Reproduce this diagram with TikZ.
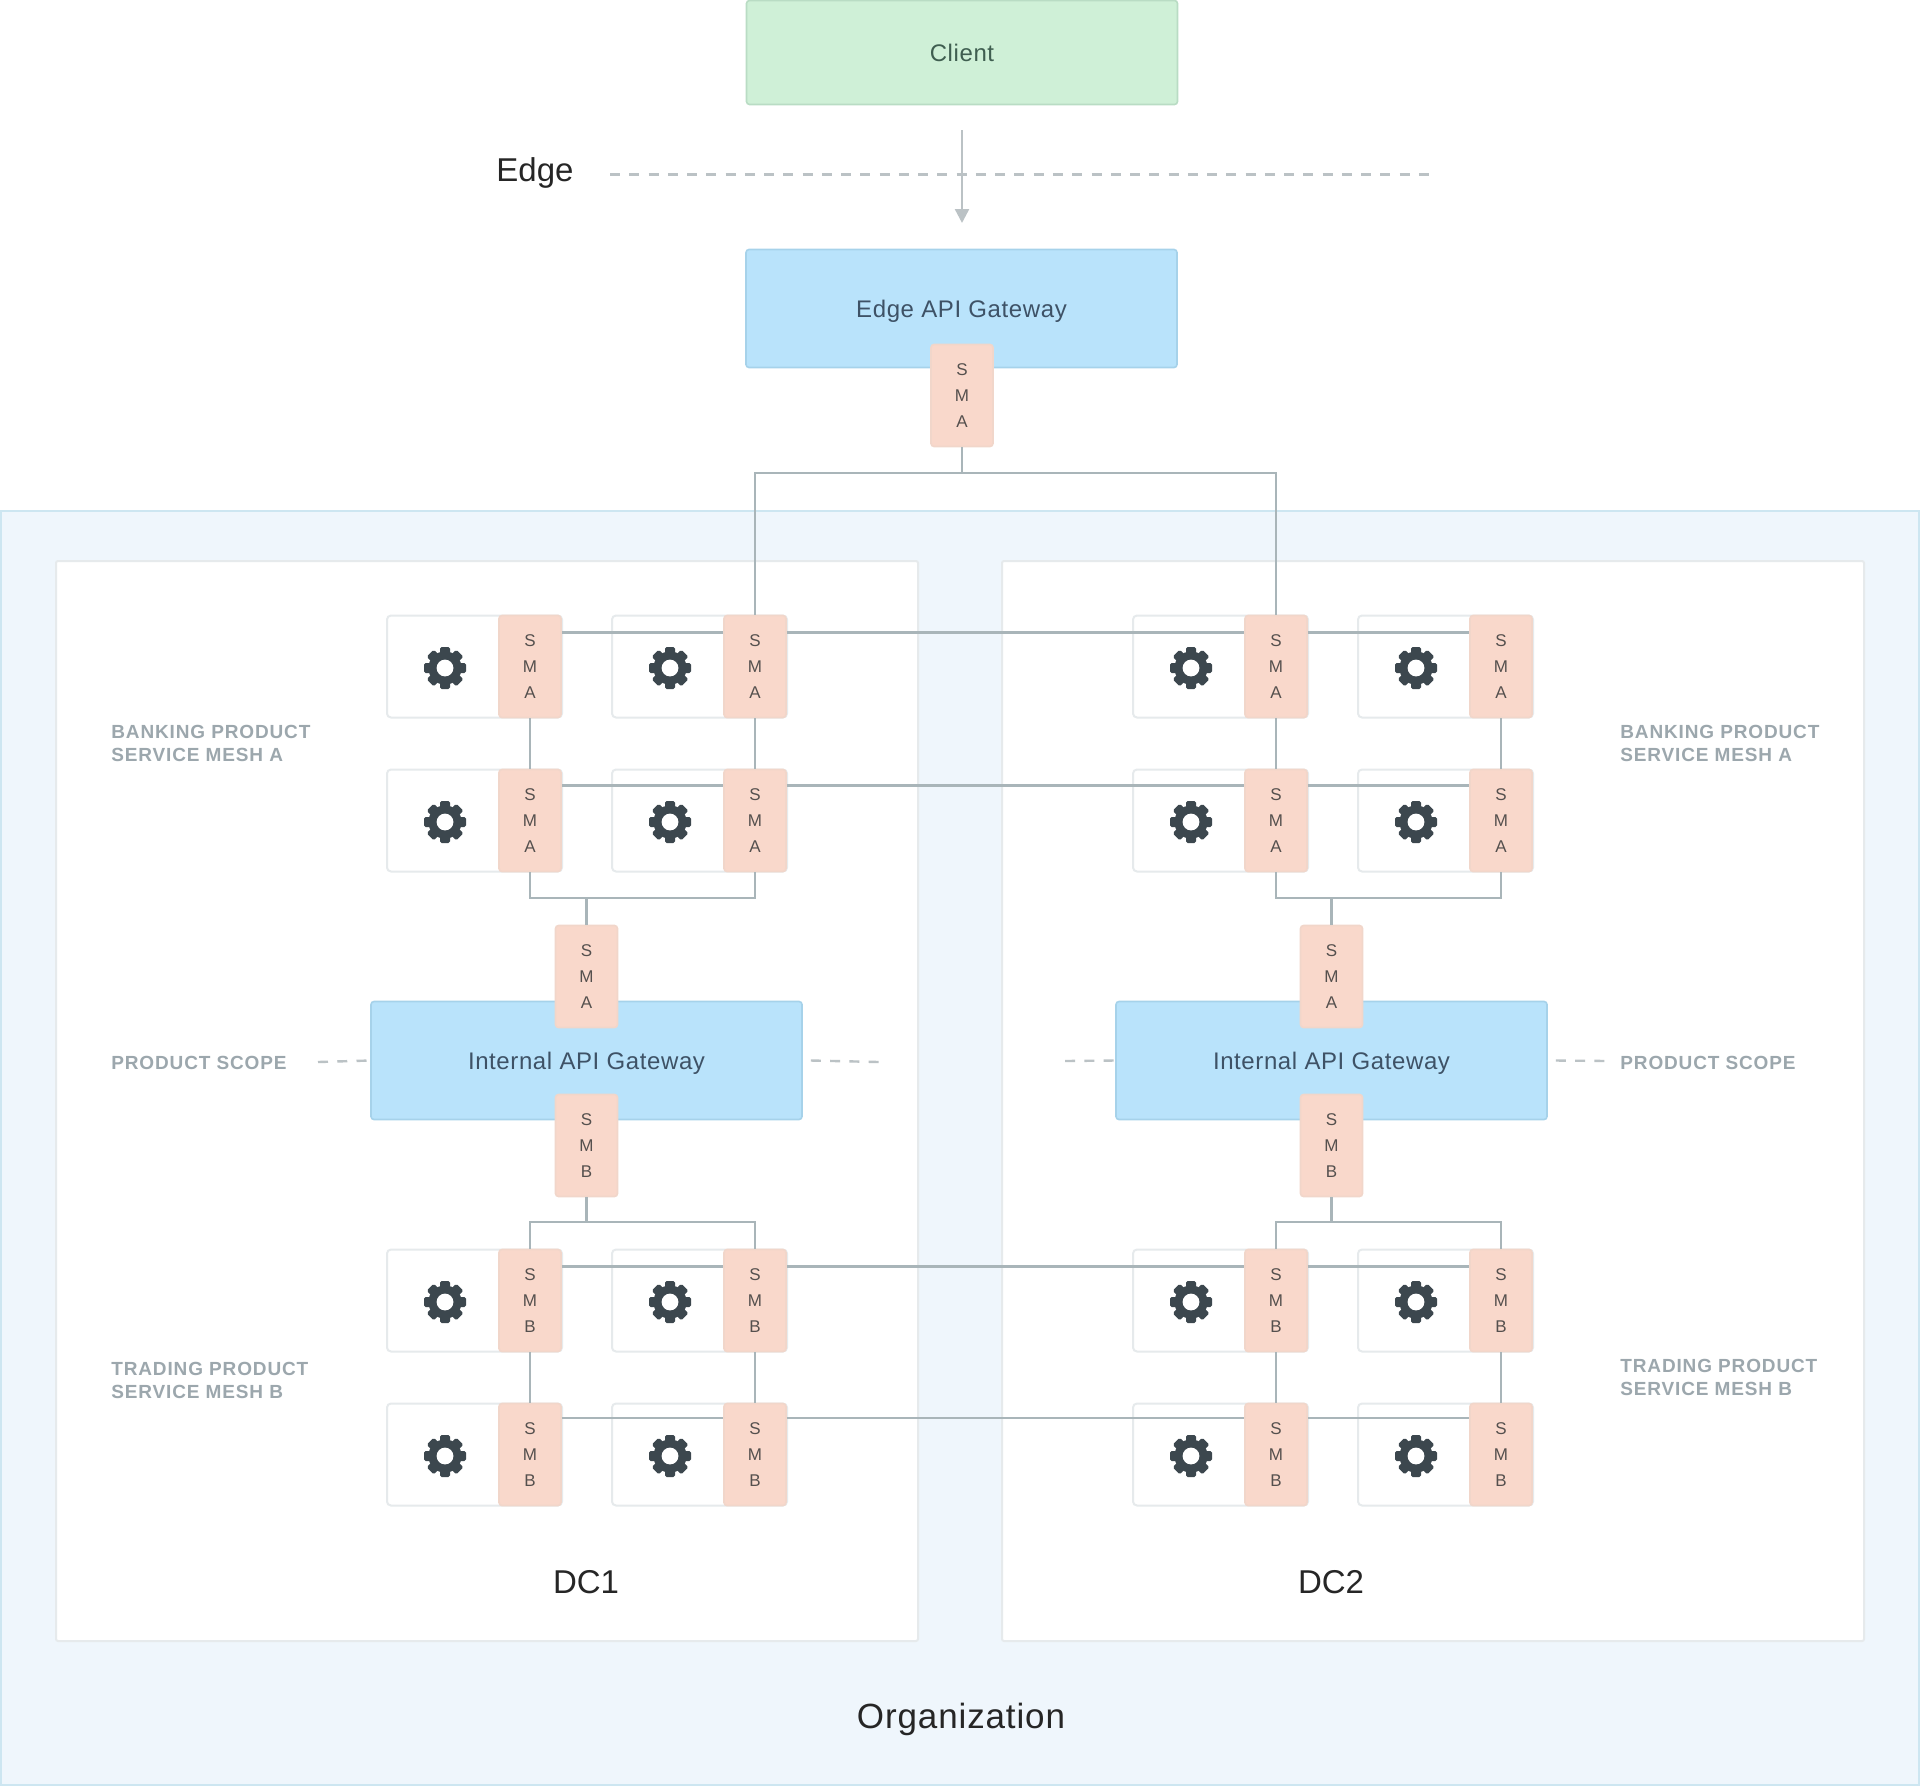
\documentclass[tikz,border=0pt]{standalone}
\usepackage{fontspec}
\setmainfont{Liberation Sans}
\newfontfamily\boxfont[LetterSpace=2.5]{Liberation Sans}
\newfontfamily\lblfont[LetterSpace=4.5]{Liberation Sans}
\usetikzlibrary{arrows.meta}
\definecolor{orgfill}{HTML}{EFF6FC}
\definecolor{orgline}{HTML}{CDE6F1}
\definecolor{dcline}{HTML}{E6EAEC}
\definecolor{wirecol}{HTML}{A9B5B9}
\definecolor{dashcol}{HTML}{BBC2C5}
\definecolor{gearcol}{HTML}{3C474E}
\definecolor{lblcol}{HTML}{9CA7AD}
\definecolor{clientfill}{HTML}{CFF0D7}
\definecolor{clientline}{HTML}{B9DCC4}
\definecolor{clienttxt}{HTML}{3F5E50}
\definecolor{gwfill}{HTML}{B9E3FB}
\definecolor{gwline}{HTML}{A6D2EA}
\definecolor{gwtxt}{HTML}{3E5266}
\definecolor{smfill}{HTML}{F9D8CB}
\definecolor{smline}{HTML}{F1D6CA}
\definecolor{smtxt}{HTML}{55504E}
\tikzset{
  orgbox/.style={draw=orgline, line width=1.2pt, fill=orgfill},
  dcbox/.style={draw=dcline, line width=1pt, fill=white, rounded corners=1pt},
  clientbox/.style={draw=clientline, line width=.8pt, fill=clientfill, rounded corners=1.5pt, inner sep=0, minimum width=215.5pt, minimum height=52pt, text=clienttxt, font=\boxfont\fontsize{12}{13}\selectfont},
  gwbox/.style={draw=gwline, line width=.8pt, fill=gwfill, rounded corners=1.5pt, inner sep=0, minimum width=215.5pt, minimum height=59pt, text=gwtxt, text depth=0pt, font=\boxfont\fontsize{12}{13}\selectfont},
  svcbox/.style={draw=dcline, line width=1pt, fill=white, rounded corners=2pt, inner sep=0, minimum width=87.5pt, minimum height=51pt},
  smbox/.style={draw=smline, line width=.8pt, fill=smfill, rounded corners=1.5pt, inner sep=0, minimum width=31pt, minimum height=51pt, align=center, text=smtxt, font=\fontsize{8.5}{13}\selectfont},
  wire/.style={draw=wirecol, line width=1.2pt},
  scopedash/.style={draw=dashcol, line width=1.2pt, dash pattern=on 5pt off 4.63pt},
  lbl/.style={anchor=west, align=left, inner sep=0, text=lblcol, font=\lblfont\fontsize{9.5}{11.5}\selectfont\bfseries},
  bigtxt/.style={inner sep=0, text=black!85, font=\fontsize{16.5}{20}\selectfont},
  gear/.pic={
    \fill[gearcol, rounded corners=.8pt] (-5,-21) rectangle (5,21);
    \fill[gearcol, rounded corners=.8pt, rotate=45] (-5,-21) rectangle (5,21);
    \fill[gearcol, rounded corners=.8pt, rotate=90] (-5,-21) rectangle (5,21);
    \fill[gearcol, rounded corners=.8pt, rotate=135] (-5,-21) rectangle (5,21);
    \fill[gearcol] (0,0) circle (8.3pt);
    \fill[white] (0,0) circle (4.2pt);
  }
}
\begin{document}
\begin{tikzpicture}[x=0.5pt,y=-0.5pt]
\useasboundingbox (0,0) rectangle (1920,1788);

\draw[orgbox] (1,511) rectangle (1919,1785);
\draw[dcbox] (56,561) rectangle (918,1641);
\draw[dcbox] (1002,561) rectangle (1864,1641);

\node[clientbox] (client) at (962,52.5) {Client};
\node[gwbox] (gwEdge) at (961.5,308.5) {Edge API Gateway};
\node[smbox] (smTop) at (962,395.5) {S\\M\\A};

\node[gwbox] (gwL) at (586.5,1060.5) {Internal API Gateway};
\node[gwbox] (gwR) at (1331.5,1060.5) {Internal API Gateway};
\node[smbox] (gwAl) at (586.5,976.5) {S\\M\\A};
\node[smbox] (gwBl) at (586.5,1145.5) {S\\M\\B};
\node[smbox] (gwAr) at (1331.5,976.5) {S\\M\\A};
\node[smbox] (gwBr) at (1331.5,1145.5) {S\\M\\B};

% banking mesh, first row
\node[svcbox] (svcA11) at (474.5,666.5) {}; \pic at (445,668) {gear};
\node[svcbox] (svcA12) at (699.5,666.5) {}; \pic at (670,668) {gear};
\node[svcbox] (svcA13) at (1220.5,666.5) {}; \pic at (1191,668) {gear};
\node[svcbox] (svcA14) at (1445.5,666.5) {}; \pic at (1416,668) {gear};
\node[smbox] (smA11) at (530,666.5) {S\\M\\A};
\node[smbox] (smA12) at (755,666.5) {S\\M\\A};
\node[smbox] (smA13) at (1276,666.5) {S\\M\\A};
\node[smbox] (smA14) at (1501,666.5) {S\\M\\A};

% banking mesh, second row
\node[svcbox] (svcA21) at (474.5,820.5) {}; \pic at (445,822) {gear};
\node[svcbox] (svcA22) at (699.5,820.5) {}; \pic at (670,822) {gear};
\node[svcbox] (svcA23) at (1220.5,820.5) {}; \pic at (1191,822) {gear};
\node[svcbox] (svcA24) at (1445.5,820.5) {}; \pic at (1416,822) {gear};
\node[smbox] (smA21) at (530,820.5) {S\\M\\A};
\node[smbox] (smA22) at (755,820.5) {S\\M\\A};
\node[smbox] (smA23) at (1276,820.5) {S\\M\\A};
\node[smbox] (smA24) at (1501,820.5) {S\\M\\A};

% trading mesh, first row
\node[svcbox] (svcB11) at (474.5,1300.5) {}; \pic at (445,1302) {gear};
\node[svcbox] (svcB12) at (699.5,1300.5) {}; \pic at (670,1302) {gear};
\node[svcbox] (svcB13) at (1220.5,1300.5) {}; \pic at (1191,1302) {gear};
\node[svcbox] (svcB14) at (1445.5,1300.5) {}; \pic at (1416,1302) {gear};
\node[smbox] (smB11) at (530,1300.5) {S\\M\\B};
\node[smbox] (smB12) at (755,1300.5) {S\\M\\B};
\node[smbox] (smB13) at (1276,1300.5) {S\\M\\B};
\node[smbox] (smB14) at (1501,1300.5) {S\\M\\B};

% trading mesh, second row
\node[svcbox] (svcB21) at (474.5,1454.5) {}; \pic at (445,1456) {gear};
\node[svcbox] (svcB22) at (699.5,1454.5) {}; \pic at (670,1456) {gear};
\node[svcbox] (svcB23) at (1220.5,1454.5) {}; \pic at (1191,1456) {gear};
\node[svcbox] (svcB24) at (1445.5,1454.5) {}; \pic at (1416,1456) {gear};
\node[smbox] (smB21) at (530,1454.5) {S\\M\\B};
\node[smbox] (smB22) at (755,1454.5) {S\\M\\B};
\node[smbox] (smB23) at (1276,1454.5) {S\\M\\B};
\node[smbox] (smB24) at (1501,1454.5) {S\\M\\B};

\coordinate (arrowTop) at (962,130);
\coordinate (arrowEnd) at (962,223);
\coordinate (edgeFrom) at (610,174.5);
\coordinate (edgeTo) at (1429,174.5);
\coordinate (busTop) at (962,473);
\coordinate (busAl) at (586.5,898);
\coordinate (busAr) at (1331.5,898);
\coordinate (busBl) at (586.5,1222);
\coordinate (busBr) at (1331.5,1222);

\draw[scopedash] (edgeFrom) -- (edgeTo);
\draw[dashcol, line width=1.2pt, -{Stealth[length=7pt, width=7pt, inset=0pt]}] (arrowTop) -- (arrowEnd);

\draw[wire] (smTop.south) -- (busTop);
\draw[wire] (smA12.north) |- (busTop) -| (smA13.north);

\draw[wire] ([yshift=17pt]smA11.east) -- ([yshift=17pt]smA12.west);
\draw[wire] ([yshift=17pt]smA12.east) -- ([yshift=17pt]smA13.west);
\draw[wire] ([yshift=17pt]smA13.east) -- ([yshift=17pt]smA14.west);
\draw[wire] ([yshift=17.5pt]smA21.east) -- ([yshift=17.5pt]smA22.west);
\draw[wire] ([yshift=17.5pt]smA22.east) -- ([yshift=17.5pt]smA23.west);
\draw[wire] ([yshift=17.5pt]smA23.east) -- ([yshift=17.5pt]smA24.west);
\draw[wire] ([yshift=17pt]smB11.east) -- ([yshift=17pt]smB12.west);
\draw[wire] ([yshift=17pt]smB12.east) -- ([yshift=17pt]smB13.west);
\draw[wire] ([yshift=17pt]smB13.east) -- ([yshift=17pt]smB14.west);
\draw[wire] ([yshift=18.2pt]smB21.east) -- ([yshift=18.2pt]smB22.west);
\draw[wire] ([yshift=18.2pt]smB22.east) -- ([yshift=18.2pt]smB23.west);
\draw[wire] ([yshift=18.2pt]smB23.east) -- ([yshift=18.2pt]smB24.west);

\draw[wire] (smA11.south) -- (smA21.north);
\draw[wire] (smA12.south) -- (smA22.north);
\draw[wire] (smA13.south) -- (smA23.north);
\draw[wire] (smA14.south) -- (smA24.north);
\draw[wire] (smB11.south) -- (smB21.north);
\draw[wire] (smB12.south) -- (smB22.north);
\draw[wire] (smB13.south) -- (smB23.north);
\draw[wire] (smB14.south) -- (smB24.north);

\draw[wire] (smA21.south) |- (busAl) -| (smA22.south);
\draw[wire] (busAl) -- (gwAl.north);
\draw[wire] (smA23.south) |- (busAr) -| (smA24.south);
\draw[wire] (busAr) -- (gwAr.north);
\draw[wire] (smB11.north) |- (busBl) -| (smB12.north);
\draw[wire] (busBl) -- (gwBl.south);
\draw[wire] (smB13.north) |- (busBr) -| (smB14.north);
\draw[wire] (busBr) -- (gwBr.south);

% product scope dashes
\coordinate (scopeLa) at (318,1062);
\coordinate (scopeLb) at (879,1062);
\coordinate (scopeRa) at (1065,1061);
\coordinate (scopeRb) at (1607,1061);
\draw[scopedash] (scopeLa) -- (gwL.west);
\draw[scopedash] ([xshift=4pt]gwL.east) -- (scopeLb);
\draw[scopedash] (scopeRa) -- (gwR.west);
\draw[scopedash] ([xshift=4pt]gwR.east) -- (scopeRb);

\node[bigtxt] (edgeLbl) at (535,173) {Edge};
\node[bigtxt] (dcOne) at (586,1582) {DC1};
\node[bigtxt] (dcTwo) at (1331,1582) {DC2};
\node[bigtxt, font=\boxfont\fontsize{17.5}{20}\selectfont] (orgLbl) at (961,1719) {Organization};

\node[lbl] (bankL) at (111,743) {BANKING PRODUCT\\SERVICE MESH A};
\node[lbl] (bankR) at (1620,743) {BANKING PRODUCT\\SERVICE MESH A};
\node[lbl] (scopeL) at (111,1062.5) {PRODUCT SCOPE};
\node[lbl] (scopeR) at (1620,1062.5) {PRODUCT SCOPE};
\node[lbl] (tradeL) at (111,1380) {TRADING PRODUCT\\SERVICE MESH B};
\node[lbl] (tradeR) at (1620,1377) {TRADING PRODUCT\\SERVICE MESH B};
\end{tikzpicture}
\end{document}
